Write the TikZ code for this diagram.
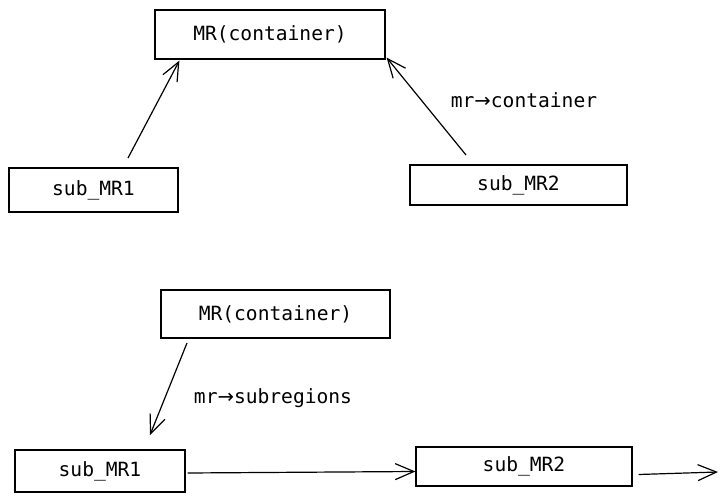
\documentclass[tikz,border=0pt]{standalone}
\usepackage{fontspec}
\setmonofont{DejaVu Sans Mono}
\newfontfamily\arrowfont{DejaVu Sans}
\usetikzlibrary{arrows.meta,calc}
\newcommand{\myarr}{{\arrowfont →}}
\begin{document}
\begin{tikzpicture}[x=0.75pt,y=-0.75pt,
  box/.style={draw=black,line width=0.9pt,rectangle,inner sep=0pt,
    font=\ttfamily\fontsize{14.7}{17}\selectfont},
  lbl/.style={font=\ttfamily\fontsize{14.7}{17}\selectfont,inner sep=0pt},
  conn/.style={draw=black,line width=0.9pt,-{Straight Barb[length=14pt,width=12pt,line width=0.9pt]}},
]
\useasboundingbox (0,0) rectangle (725,502);
% top diagram
\node[box,minimum width=172.5pt,minimum height=36.75pt] (mrA) at (270,34.5) {MR(container)};
\node[box,minimum width=126.75pt,minimum height=33pt] (subA) at (93.5,190) {sub\_MR1};
\node[box,minimum width=162.75pt,minimum height=30pt] (subB) at (518.5,185) {sub\_MR2};
\node[lbl] (lblA) at (524,100) {mr\myarr container};
\coordinate (sA) at (128,158);
\coordinate (sB) at (466,155);
\draw[conn] (sA) -- ($(mrA.south west)+(25,1)$);
\draw[conn] (sB) -- ($(mrA.south east)+(1,-2)$);
% bottom diagram
\node[box,minimum width=171.75pt,minimum height=36pt] (mrC) at (275.5,314) {MR(container)};
\node[box,minimum width=127.5pt,minimum height=31.5pt] (subC) at (100,471) {sub\_MR1};
\node[box,minimum width=162pt,minimum height=29.25pt] (subD) at (524,466.5) {sub\_MR2};
\node[lbl] (lblC) at (273,398) {mr\myarr subregions};
\coordinate (sC) at (187,343);
\coordinate (tC) at (150,435);
\coordinate (tE) at (718,472);
\draw[conn] (sC) -- (tC);
\draw[conn] ($(subC.east)+(2,2)$) -- ($(subD.west)+(0,5)$);
\draw[conn] ($(subD.east)+(6,8)$) -- (tE);
\end{tikzpicture}
\end{document}
